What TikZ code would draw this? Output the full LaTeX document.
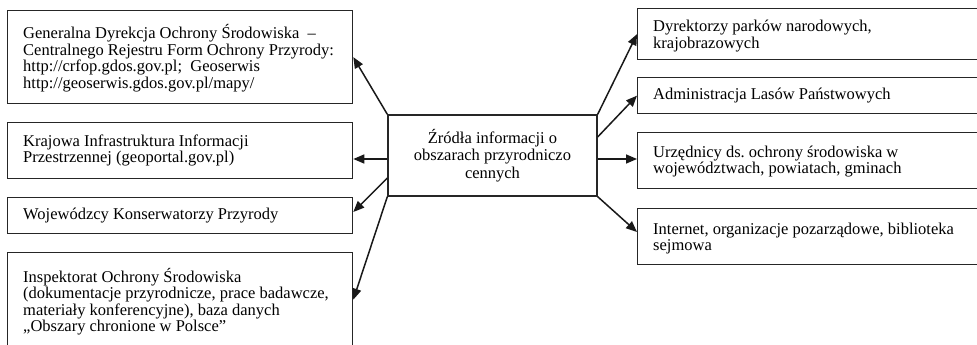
\documentclass[tikz,border=0pt]{standalone}
\usepackage{fontspec}
\setmainfont{Liberation Serif}
\usetikzlibrary{arrows.meta}
\begin{document}
\frenchspacing
\begin{tikzpicture}[x=1pt,y=-1pt,
  box/.style={draw=black!85, line width=1.3pt, rectangle, anchor=north west, inner sep=0pt},
  txt/.style={anchor=west, align=left, inner sep=0pt, font=\fontsize{16.5}{16.6}\selectfont},
  cbox/.style={draw=black!85, line width=1.3pt, rectangle, align=center, inner sep=0pt,
    font=\fontsize{16.5}{17.5}\selectfont},
  arr/.style={line width=1.5pt, draw=black!90, -{Triangle[length=11pt,width=9pt]}}]
\useasboundingbox (0,0) rectangle (977,345);
\clip (0,0) rectangle (977,345);
% left boxes
\node[box, minimum width=345pt, minimum height=93pt] (L1) at (7,10) {};
\node[txt] (t1) at ([xshift=16pt,yshift=-1pt]L1.west)
  {Generalna Dyrekcja Ochrony Środowiska \ –\\Centralnego Rejestru Form Ochrony Przyrody:\\http://crfop.gdos.gov.pl; \ Geoserwis\\http://geoserwis.gdos.gov.pl/mapy/};
\node[box, minimum width=345pt, minimum height=56pt] (L2) at (7,122) {};
\node[txt] (t2) at ([xshift=16pt]L2.west)
  {Krajowa Infrastruktura Informacji\\Przestrzennej (geoportal.gov.pl)};
\node[box, minimum width=345pt, minimum height=36pt] (L3) at (7,197) {};
\node[txt] (t3) at ([xshift=16pt]L3.west)
  {Wojewódzcy Konserwatorzy Przyrody};
\node[box, minimum width=345pt, minimum height=94pt] (L4) at (7,252) {};
\node[txt] (t4) at ([xshift=16pt,yshift=-2pt]L4.west)
  {Inspektorat Ochrony Środowiska\\(dokumentacje przyrodnicze, prace badawcze,\\materiały konferencyjne), baza danych\\„Obszary chronione w Polsce”};
% center
\node[cbox, minimum width=209pt, minimum height=81pt] (C) at (492.5,155.5)
  {Źródła informacji o\\obszarach przyrodniczo\\cennych};
% right boxes
\node[box, minimum width=360pt, minimum height=51pt] (R1) at (637,8) {};
\node[txt] (s1) at ([xshift=16pt,yshift=-2pt]R1.west)
  {Dyrektorzy parków narodowych,\\krajobrazowych};
\node[box, minimum width=360pt, minimum height=36pt] (R2) at (637,77) {};
\node[txt] (s2) at ([xshift=16pt]R2.west)
  {Administracja Lasów Państwowych};
\node[box, minimum width=360pt, minimum height=56pt] (R3) at (637,132) {};
\node[txt] (s3) at ([xshift=16pt,yshift=-1pt]R3.west)
  {Urzędnicy ds. ochrony środowiska w\\województwach, powiatach, gminach};
\node[box, minimum width=360pt, minimum height=56pt] (R4) at (637,208) {};
\node[txt] (s4) at ([xshift=16pt,yshift=-2pt]R4.west)
  {Internet, organizacje pozarządowe, biblioteka\\sejmowa};
% arrows left
\draw[arr] (C.north west) -- (L1.east);
\draw[arr] (C.west |- 0,159) -- (L2.east |- 0,159);
\draw[arr] (C.west |- 0,178) -- (L3.east |- 0,212);
\draw[arr] (C.south west) -- (L4.east);
% arrows right
\draw[arr] (C.north east) -- (R1.west);
\draw[arr] (C.east |- 0,137) -- (R2.west);
\draw[arr] (C.east |- 0,159) -- (R3.west |- 0,159);
\draw[arr] (C.south east) -- (R4.west |- 0,232);
\end{tikzpicture}
\end{document}
